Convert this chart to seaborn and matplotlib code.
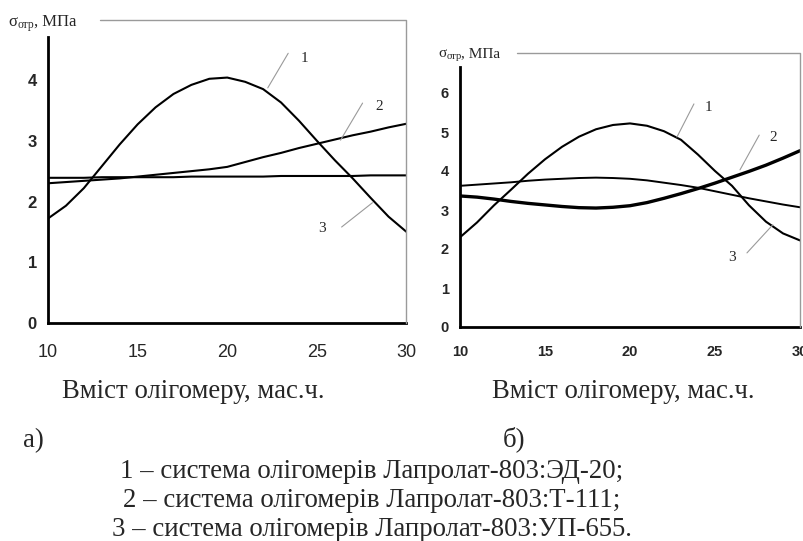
import matplotlib.pyplot as plt
import matplotlib.lines as mlines
import seaborn as sns
import pandas as pd

# вміст олігомеру, мас.ч.
x_vals = list(range(10, 31))

# а) σотр, МПа
a_curve1 = [1.72, 1.93, 2.22, 2.58, 2.94, 3.27, 3.55, 3.77, 3.92, 4.02, 4.04,
            3.97, 3.85, 3.63, 3.33, 3.00, 2.68, 2.38, 2.06, 1.75, 1.50]
a_curve2 = [2.30, 2.32, 2.34, 2.36, 2.38, 2.41, 2.44, 2.47, 2.50, 2.53, 2.57,
            2.65, 2.73, 2.80, 2.88, 2.95, 3.02, 3.09, 3.15, 3.22, 3.28]
a_curve3 = [2.39, 2.39, 2.39, 2.40, 2.40, 2.40, 2.40, 2.40, 2.41, 2.41, 2.41,
            2.41, 2.41, 2.42, 2.42, 2.42, 2.42, 2.42, 2.43, 2.43, 2.43]

# б) σотр, МПа
b_curve1 = [2.30, 2.68, 3.12, 3.52, 3.93, 4.30, 4.62, 4.88, 5.07, 5.18, 5.22,
            5.16, 5.02, 4.80, 4.42, 4.00, 3.62, 3.12, 2.70, 2.40, 2.22]
b_curve2 = [3.36, 3.33, 3.28, 3.22, 3.17, 3.13, 3.09, 3.06, 3.05, 3.07, 3.11,
            3.19, 3.30, 3.42, 3.55, 3.69, 3.84, 3.99, 4.15, 4.33, 4.52]
b_curve3 = [3.62, 3.65, 3.68, 3.71, 3.75, 3.78, 3.80, 3.82, 3.83, 3.82, 3.80,
            3.76, 3.70, 3.64, 3.57, 3.48, 3.39, 3.30, 3.22, 3.14, 3.07]

a_yticks = [0, 1, 2, 3, 4]
b_yticks = [0, 1, 2, 3, 4, 5, 6]
x_ticks = [10, 15, 20, 25, 30]

legend_lines = [
    '1 – система олігомерів Лапролат-803:ЭД-20;',
    '2 – система олігомерів Лапролат-803:Т-111;',
    '3 – система олігомерів Лапролат-803:УП-655.',
]

sns.set_style('white')
plt.rcParams['font.family'] = ['Liberation Serif', 'DejaVu Serif']

W, H = 804, 541
fig = plt.figure(figsize=(W / 100, H / 100), dpi=100)


def fx(px):
    return px / W


def fy(py):
    return 1 - py / H


narrow = ['Liberation Sans Narrow', 'Liberation Sans', 'DejaVu Sans']

ax_a = fig.add_axes([fx(48), fy(323), (406.5 - 48) / W, (323 - 37) / H])
ax_b = fig.add_axes([fx(460), fy(327), (800 - 460) / W, (327 - 67) / H])

df_a = pd.DataFrame({'x': x_vals, 'c1': a_curve1, 'c2': a_curve2, 'c3': a_curve3})
df_b = pd.DataFrame({'x': x_vals, 'c1': b_curve1, 'c2': b_curve2, 'c3': b_curve3})

for col, lw in [('c1', 1.5), ('c2', 1.5), ('c3', 1.5)]:
    sns.lineplot(data=df_a, x='x', y=col, ax=ax_a, color='black', lw=lw)
for col, lw in [('c1', 1.5), ('c2', 2.4), ('c3', 1.4)]:
    sns.lineplot(data=df_b, x='x', y=col, ax=ax_b, color='black', lw=lw)

ax_a.set_ylim(0, (323 - 37) / 60.75)
ax_b.set_ylim(0, (327 - 67) / 39.0)

for ax, yt in [(ax_a, a_yticks), (ax_b, b_yticks)]:
    ax.set_xlim(10, 30)
    ax.set_xticks(x_ticks)
    ax.set_yticks(yt)
    ax.set_xlabel('')
    ax.set_ylabel('')
    ax.grid(False)
    ax.patch.set_alpha(0)
    for s in ['top', 'right']:
        ax.spines[s].set_visible(False)
    for s in ['left', 'bottom']:
        ax.spines[s].set_color('black')
        ax.spines[s].set_linewidth(2)
    ax.tick_params(direction='out', length=5, width=1.5, color='black', pad=3)

ax_a.tick_params(axis='x', length=6, pad=9)
ax_b.tick_params(axis='x', length=5, pad=8)

# тики
for lab in ax_a.get_yticklabels():
    lab.set_family(narrow)
    lab.set_fontweight('bold')
    lab.set_fontsize(12)
for lab in ax_a.get_xticklabels():
    lab.set_family(['Liberation Sans', 'DejaVu Sans'])
    lab.set_fontsize(13)
for lab in ax_b.get_yticklabels() + ax_b.get_xticklabels():
    lab.set_family(narrow)
    lab.set_fontweight('bold')
    lab.set_fontsize(10.5)

# сіра рамка області побудови
gray = '#9a9a9a'
fig.add_artist(mlines.Line2D([fx(100), fx(406), fx(406)], [fy(20), fy(20), fy(323)],
                             color=gray, lw=1))
fig.add_artist(mlines.Line2D([fx(517), fx(800), fx(800)], [fy(53), fy(53), fy(327)],
                             color=gray, lw=1))


def sigma_label(px, py, size):
    t1 = fig.text(fx(px), fy(py), 'σ', fontsize=size, va='baseline')
    t2 = ax_a.annotate('отр', xy=(1, 0), xycoords=t1, xytext=(0, -0.5),
                       textcoords='offset points', fontsize=size * 0.7,
                       va='bottom', ha='left', annotation_clip=False)
    ax_a.annotate(', МПа', xy=(1, 0), xycoords=(t2, t1), fontsize=size,
                  va='bottom', ha='left', annotation_clip=False)


sigma_label(8, 26, 12)
sigma_label(438, 57, 11)


# позначки кривих
def mark(ax, label, xy, xytext, txt):
    ax.annotate('', xy=xy, xytext=xytext,
                arrowprops=dict(arrowstyle='-', color=gray, lw=0.8,
                                shrinkA=0, shrinkB=0))
    ax.text(txt[0], txt[1], label, fontsize=11, ha='center', va='center')


mark(ax_a, '1', (22.26, 3.87), (23.4, 4.44), (24.3, 4.36))
mark(ax_a, '2', (26.32, 3.01), (27.55, 3.62), (28.5, 3.57))
mark(ax_a, '3', (28.1, 1.98), (26.38, 1.58), (25.3, 1.55))

mark(ax_b, '1', (22.76, 4.87), (23.76, 5.72), (24.6, 5.62))
mark(ax_b, '2', (26.47, 4.03), (27.6, 4.92), (28.4, 4.85))
mark(ax_b, '3', (28.4, 2.62), (26.88, 1.90), (26.0, 1.79))

# підписи
fs = 19.3
fig.text(fx(193.5), fy(398), 'Вміст олігомеру, мас.ч.', fontsize=fs,
         ha='center', va='baseline')
fig.text(fx(623.5), fy(398), 'Вміст олігомеру, мас.ч.', fontsize=fs,
         ha='center', va='baseline')
fig.text(fx(23), fy(447), 'а)', fontsize=fs, ha='left', va='baseline')
fig.text(fx(503), fy(446), 'б)', fontsize=fs, ha='left', va='baseline')
for i, line in enumerate(legend_lines):
    fig.text(fx(372), fy(478 + 29 * i), line, fontsize=fs, ha='center', va='baseline')

fig.savefig('out.png', dpi=100, facecolor='white')
